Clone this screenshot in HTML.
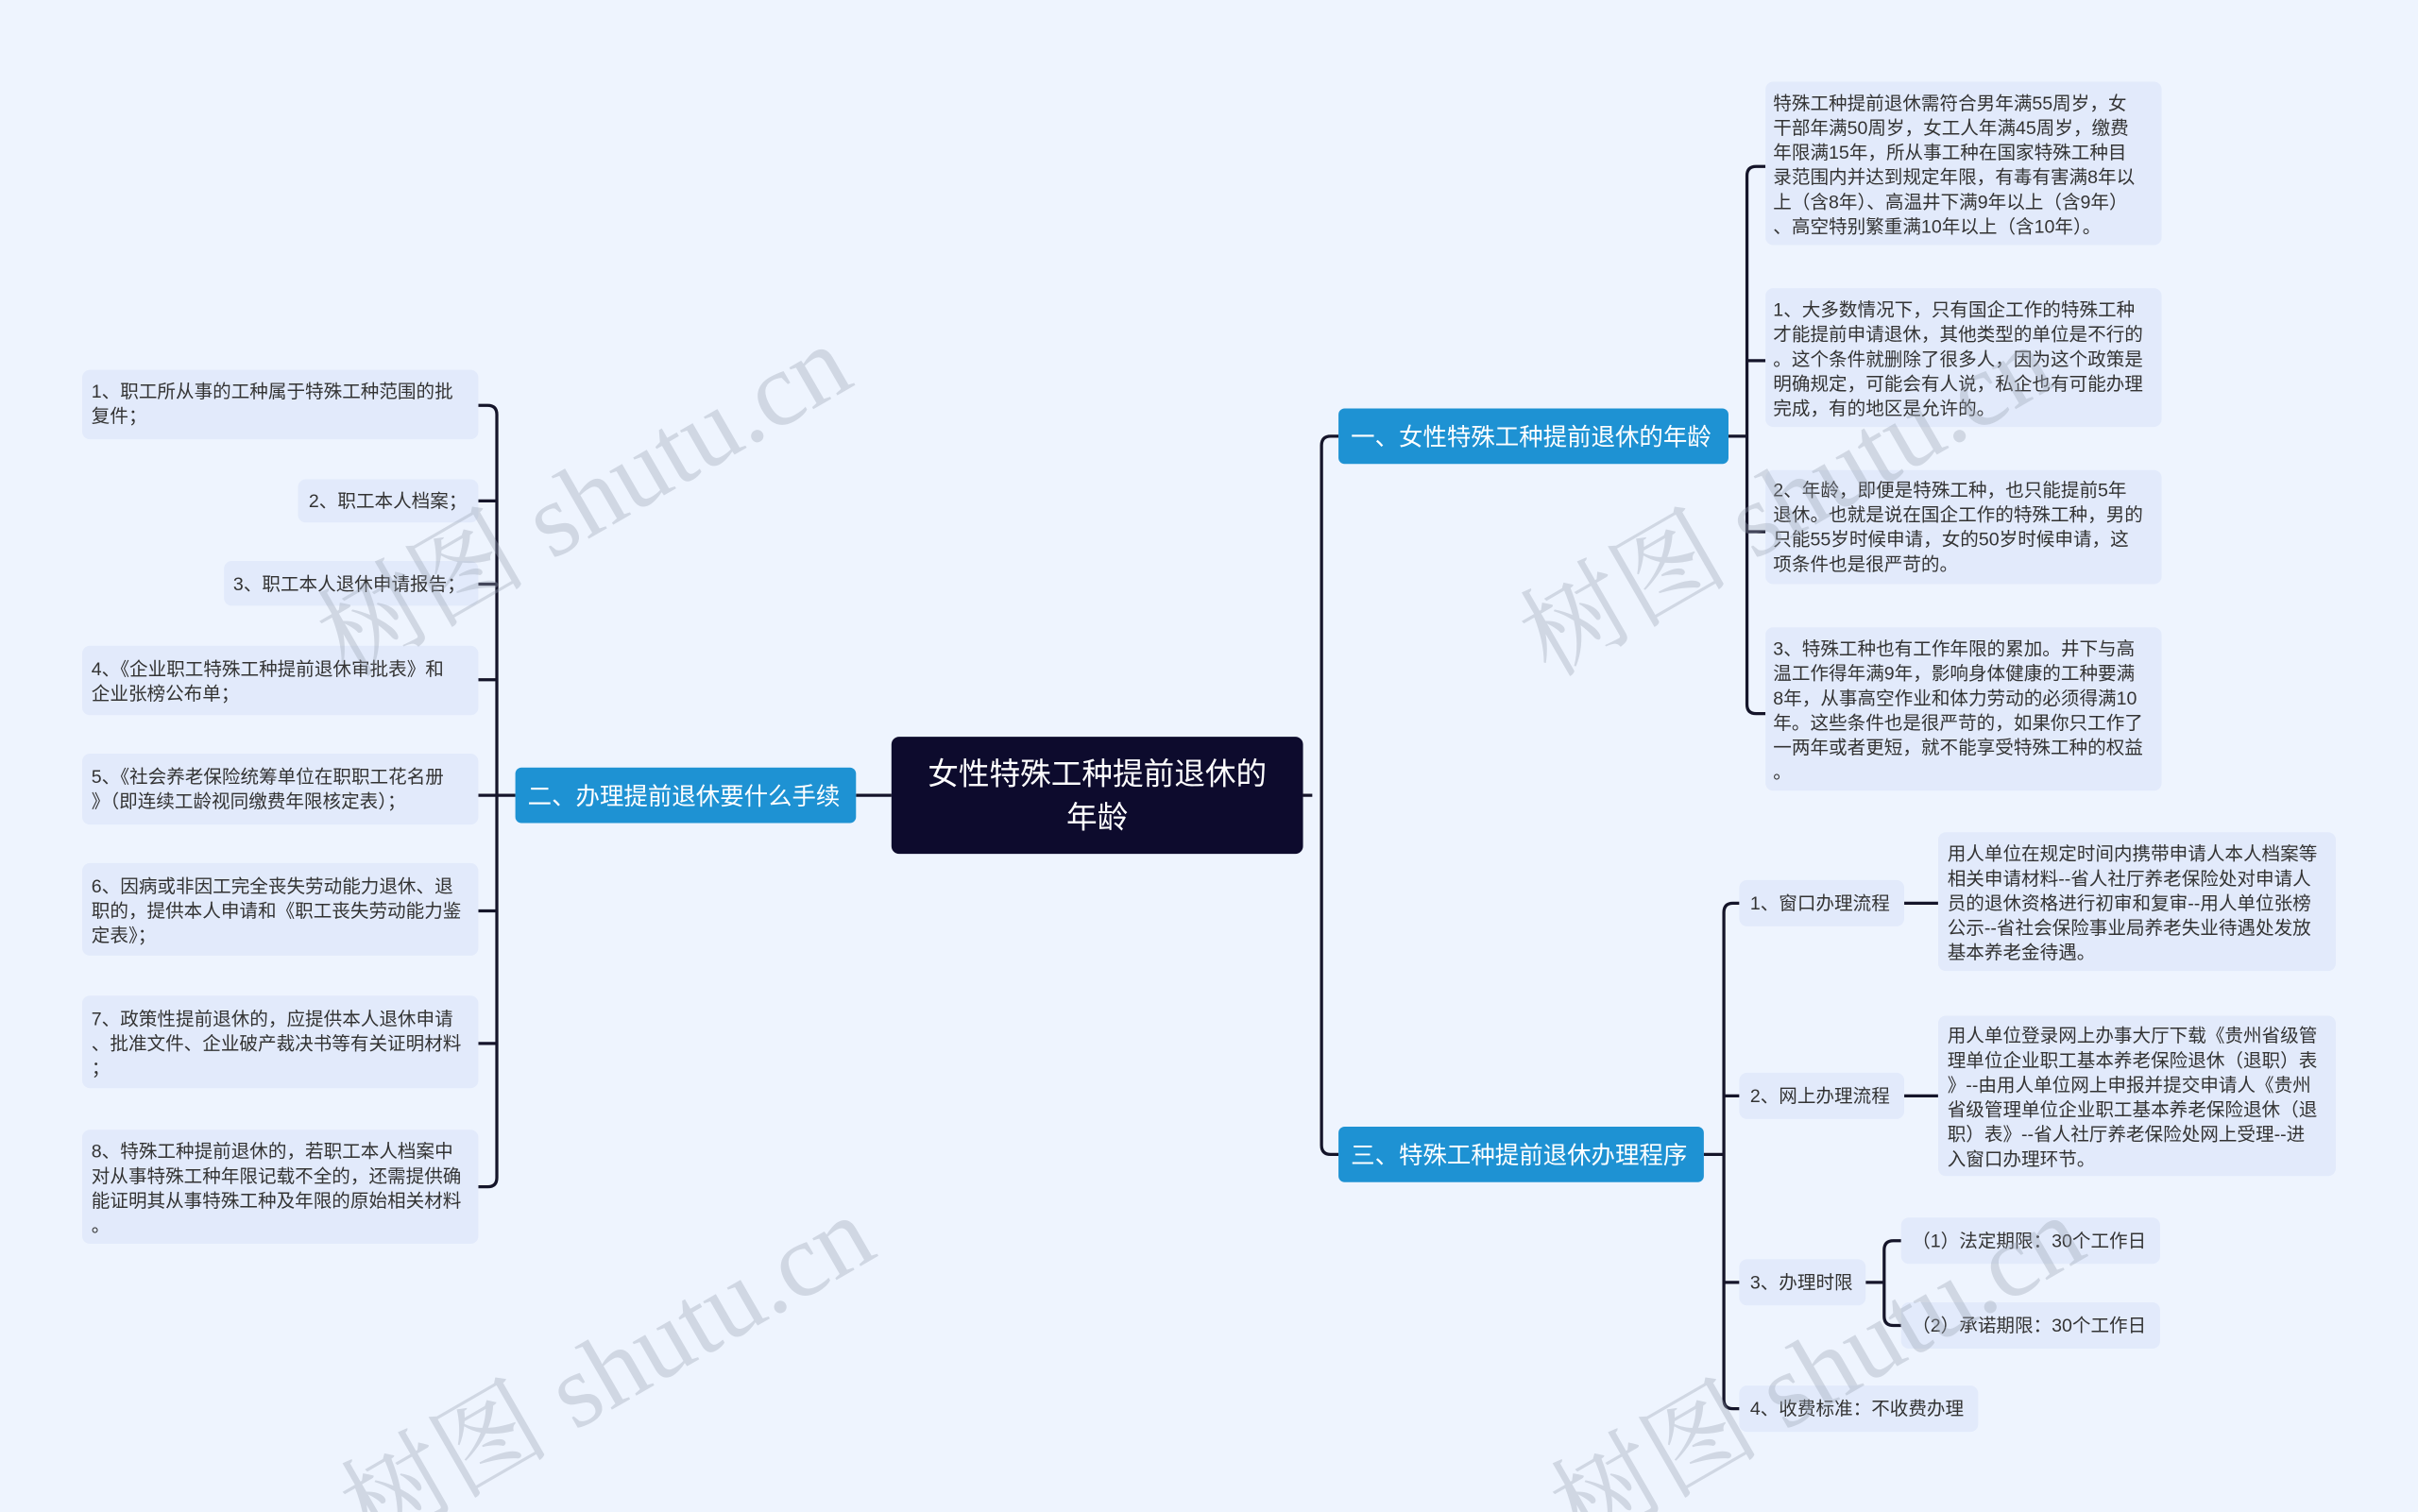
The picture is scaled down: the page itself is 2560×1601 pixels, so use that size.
<!DOCTYPE html>
<html><head><meta charset="utf-8"><style>
html,body{margin:0;padding:0;background:#eef4fe;}
svg{display:block;}
text{font-family:"Liberation Sans","Noto Sans CJK SC",sans-serif;}
.t{font-size:12px;fill:#333;}
.b{font-size:15.6px;fill:#fff;}
.c{fill:#e2eafb;}
.l{fill:none;stroke:#15152a;stroke-width:2;}
.w{font-family:"Liberation Serif","Noto Serif CJK SC",serif;font-size:68px;fill:#9aa3b3;opacity:0.35;}
</style></head><body>
<svg width="2560" height="1601" viewBox="0 0 1568 981" xmlns="http://www.w3.org/2000/svg">
<rect width="1568" height="981" fill="#eef4fe"/>

<path class="l" d="M845 516H851 M868 283H863Q857 283 857 289V743Q857 749 863 749H868"/>
<path class="l" d="M578 516H555"/>
<path class="l" d="M1121 283H1133 M1145 108H1139Q1133 108 1133 114V457Q1133 463 1139 463H1145 M1133 234H1145 M1133 345H1145"/>
<path class="l" d="M1105 749H1118 M1128 586H1124Q1118 586 1118 592V908Q1118 914 1124 914H1128 M1118 711H1128 M1118 832H1128"/>
<path class="l" d="M1235 586H1257 M1235 711H1257 M1210 832H1222 M1233 805H1228Q1222 805 1222 811V854Q1222 860 1228 860H1233"/>
<path class="l" d="M334 516H322 M310 263H316Q322 263 322 269V764Q322 770 316 770H310 M310 325H322 M310 379H322 M310 441H322 M310 516H322 M310 591H322 M310 677H322"/>

<rect x="578" y="478" width="267" height="76" rx="5" fill="#0d0b2d"/>
<text x="711.5" y="509" font-size="20" fill="#fff" text-anchor="middle">女性特殊工种提前退休的</text>
<text x="711.5" y="537" font-size="20" fill="#fff" text-anchor="middle">年龄</text>

<rect x="868" y="265" width="253" height="36" rx="4" fill="#1e92d3"/>
<text class="b" x="876" y="289">一、女性特殊工种提前退休的年龄</text>
<rect x="334" y="498" width="221" height="36" rx="4" fill="#1e92d3"/>
<text class="b" x="342" y="522">二、办理提前退休要什么手续</text>
<rect x="868" y="731" width="237" height="36" rx="4" fill="#1e92d3"/>
<text class="b" x="876" y="755">三、特殊工种提前退休办理程序</text>

<rect class="c" x="1145" y="53" width="257" height="106" rx="5"/>
<text class="t"><tspan x="1150" y="71">特殊工种提前退休需符合男年满55周岁，女</tspan><tspan x="1150" y="87">干部年满50周岁，女工人年满45周岁，缴费</tspan><tspan x="1150" y="103">年限满15年，所从事工种在国家特殊工种目</tspan><tspan x="1150" y="119">录范围内并达到规定年限，有毒有害满8年以</tspan><tspan x="1150" y="135">上（含8年）、高温井下满9年以上（含9年）</tspan><tspan x="1150" y="151">、高空特别繁重满10年以上（含10年）。</tspan></text>
<rect class="c" x="1145" y="187" width="257" height="90" rx="5"/>
<text class="t"><tspan x="1150" y="205">1、大多数情况下，只有国企工作的特殊工种</tspan><tspan x="1150" y="221">才能提前申请退休，其他类型的单位是不行的</tspan><tspan x="1150" y="237">。这个条件就删除了很多人，因为这个政策是</tspan><tspan x="1150" y="253">明确规定，可能会有人说，私企也有可能办理</tspan><tspan x="1150" y="269">完成，有的地区是允许的。</tspan></text>
<rect class="c" x="1145" y="305" width="257" height="74" rx="5"/>
<text class="t"><tspan x="1150" y="322">2、年龄，即便是特殊工种，也只能提前5年</tspan><tspan x="1150" y="338">退休。也就是说在国企工作的特殊工种，男的</tspan><tspan x="1150" y="354">只能55岁时候申请，女的50岁时候申请，这</tspan><tspan x="1150" y="370">项条件也是很严苛的。</tspan></text>
<rect class="c" x="1145" y="407" width="257" height="106" rx="5"/>
<text class="t"><tspan x="1150" y="425">3、特殊工种也有工作年限的累加。井下与高</tspan><tspan x="1150" y="441">温工作得年满9年，影响身体健康的工种要满</tspan><tspan x="1150" y="457">8年，从事高空作业和体力劳动的必须得满10</tspan><tspan x="1150" y="473">年。这些条件也是很严苛的，如果你只工作了</tspan><tspan x="1150" y="489">一两年或者更短，就不能享受特殊工种的权益</tspan><tspan x="1150" y="505">。</tspan></text>

<rect class="c" x="1128" y="571" width="107" height="30" rx="5"/>
<text class="t" x="1135" y="590">1、窗口办理流程</text>
<rect class="c" x="1257" y="540" width="258" height="90" rx="5"/>
<text class="t"><tspan x="1263" y="558">用人单位在规定时间内携带申请人本人档案等</tspan><tspan x="1263" y="574">相关申请材料--省人社厅养老保险处对申请人</tspan><tspan x="1263" y="590">员的退休资格进行初审和复审--用人单位张榜</tspan><tspan x="1263" y="606">公示--省社会保险事业局养老失业待遇处发放</tspan><tspan x="1263" y="622">基本养老金待遇。</tspan></text>
<rect class="c" x="1128" y="696" width="107" height="30" rx="5"/>
<text class="t" x="1135" y="715">2、网上办理流程</text>
<rect class="c" x="1257" y="659" width="258" height="104" rx="5"/>
<text class="t"><tspan x="1263" y="676">用人单位登录网上办事大厅下载《贵州省级管</tspan><tspan x="1263" y="692">理单位企业职工基本养老保险退休（退职）表</tspan><tspan x="1263" y="708">》--由用人单位网上申报并提交申请人《贵州</tspan><tspan x="1263" y="724">省级管理单位企业职工基本养老保险退休（退</tspan><tspan x="1263" y="740">职）表》--省人社厅养老保险处网上受理--进</tspan><tspan x="1263" y="756">入窗口办理环节。</tspan></text>
<rect class="c" x="1128" y="817" width="82" height="30" rx="5"/>
<text class="t" x="1135" y="836">3、办理时限</text>
<rect class="c" x="1233" y="790" width="168" height="30" rx="5"/>
<text class="t" x="1240" y="809">（1）法定期限：30个工作日</text>
<rect class="c" x="1233" y="845" width="168" height="30" rx="5"/>
<text class="t" x="1240" y="864">（2）承诺期限：30个工作日</text>
<rect class="c" x="1128" y="899" width="155" height="30" rx="5"/>
<text class="t" x="1135" y="918">4、收费标准：不收费办理</text>

<rect class="c" x="53" y="240" width="257" height="45" rx="5"/>
<text class="t"><tspan x="59" y="258">1、职工所从事的工种属于特殊工种范围的批</tspan><tspan x="59" y="274">复件；</tspan></text>
<rect class="c" x="193" y="311" width="117" height="28" rx="5"/>
<text class="t" x="200" y="329">2、职工本人档案；</text>
<rect class="c" x="145" y="364" width="165" height="29" rx="5"/>
<text class="t" x="151" y="383">3、职工本人退休申请报告；</text>
<rect class="c" x="53" y="419" width="257" height="45" rx="5"/>
<text class="t"><tspan x="59" y="438">4、《企业职工特殊工种提前退休审批表》和</tspan><tspan x="59" y="454">企业张榜公布单；</tspan></text>
<rect class="c" x="53" y="489" width="257" height="46" rx="5"/>
<text class="t"><tspan x="59" y="508">5、《社会养老保险统筹单位在职职工花名册</tspan><tspan x="59" y="524">》（即连续工龄视同缴费年限核定表）；</tspan></text>
<rect class="c" x="53" y="560" width="257" height="60" rx="5"/>
<text class="t"><tspan x="59" y="579">6、因病或非因工完全丧失劳动能力退休、退</tspan><tspan x="59" y="595">职的，提供本人申请和《职工丧失劳动能力鉴</tspan><tspan x="59" y="611">定表》；</tspan></text>
<rect class="c" x="53" y="646" width="257" height="60" rx="5"/>
<text class="t"><tspan x="59" y="665">7、政策性提前退休的，应提供本人退休申请</tspan><tspan x="59" y="681">、批准文件、企业破产裁决书等有关证明材料</tspan><tspan x="59" y="697">；</tspan></text>
<rect class="c" x="53" y="733" width="257" height="74" rx="5"/>
<text class="t"><tspan x="59" y="751">8、特殊工种提前退休的，若职工本人档案中</tspan><tspan x="59" y="767">对从事特殊工种年限记载不全的，还需提供确</tspan><tspan x="59" y="783">能证明其从事特殊工种及年限的原始相关材料</tspan><tspan x="59" y="799">。</tspan></text>

<text class="w" transform="translate(225,440) rotate(-30)">树图 shutu.cn</text>
<text class="w" transform="translate(1005,440) rotate(-30)">树图 shutu.cn</text>
<text class="w" transform="translate(240,1005) rotate(-30)">树图 shutu.cn</text>
<text class="w" transform="translate(1025,1005) rotate(-30)">树图 shutu.cn</text>
</svg>
</body></html>
